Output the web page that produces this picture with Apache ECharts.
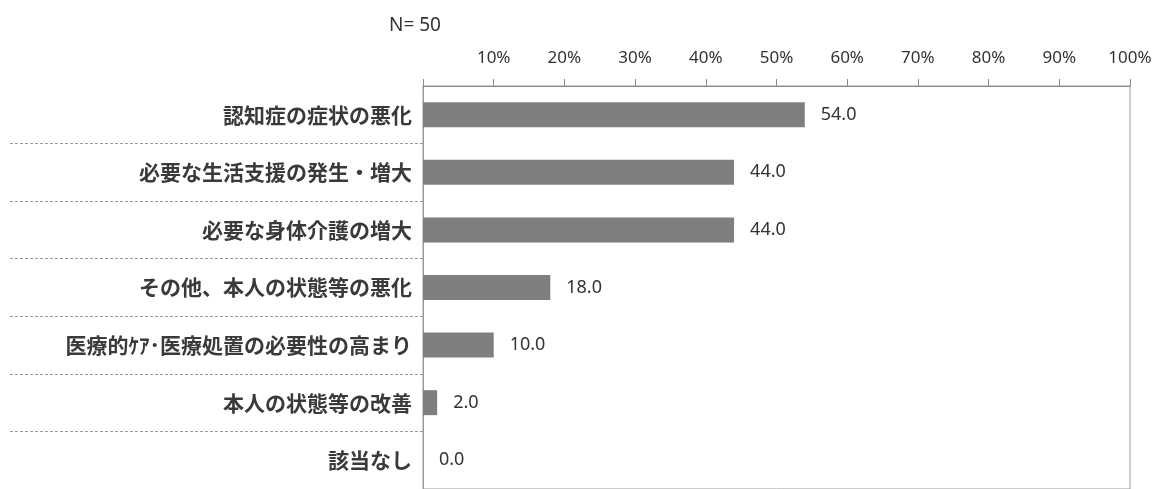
<!DOCTYPE html>
<html><head><meta charset="utf-8">
<script src="https://cdn.jsdelivr.net/npm/echarts@6/dist/echarts.min.js"></script>
<style>html,body{margin:0;padding:0;background:#fff}#c{width:1159px;height:489px}</style>
</head><body><div id="c"></div>
<script>
const categories = ["認知症の症状の悪化","必要な生活支援の発生・増大","必要な身体介護の増大","その他、本人の状態等の悪化","医療的ｹｱ･医療処置の必要性の高まり","本人の状態等の改善","該当なし"];
const values = [54.0, 44.0, 44.0, 18.0, 10.0, 2.0, 0.0];
const nLabel = "N= 50";

const chart = echarts.init(document.getElementById('c'));
chart.setOption({
  animation: false,
  backgroundColor: '#fff',
  title: { text: nLabel, left: 384, top: 11, textStyle: { fontSize: 19, fontWeight: 'normal', color: '#333', fontFamily: 'Noto Sans' } },
  grid: { left: 423, right: 29, top: 86, height: 410, show: true, borderColor: '#999', borderWidth: 1 },
  xAxis: {
    type: 'value', position: 'top', min: 0, max: 100, interval: 10,
    axisLine: { show: true, lineStyle: { color: '#888' } },
    axisTick: { show: true, length: 7, lineStyle: { color: '#888' } },
    splitLine: { show: false },
    axisLabel: { fontSize: 17, color: '#333', margin: 19, fontFamily: 'Noto Sans',
      formatter: v => v === 0 ? '' : v + '%' }
  },
  yAxis: {
    type: 'category', inverse: true, data: categories,
    axisLine: { show: true, lineStyle: { color: '#999' } },
    axisTick: { show: true, length: 413, alignWithLabel: false,
      interval: (i) => i !== 0,
      lineStyle: { color: '#999', type: [3, 2] } },
    axisLabel: { fontSize: 21, color: '#3a3a3a', margin: 11, fontWeight: 'bold', fontFamily: 'Noto Sans CJK JP' }
  },
  series: [{
    type: 'bar', data: values, barWidth: 25,
    itemStyle: { color: '#7f7f7f' },
    label: { show: true, position: 'right', distance: 16, fontSize: 18, color: '#333',
      fontFamily: 'Noto Sans', formatter: p => p.value.toFixed(1) }
  }]
});
</script></body></html>
